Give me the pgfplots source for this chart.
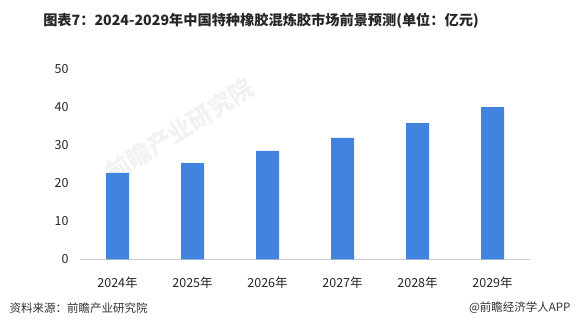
\documentclass[border=0pt]{standalone}
\usepackage{pgfplots}
\pgfplotsset{compat=1.18}
\usepackage{fontspec}
\setmainfont{Noto Sans CJK SC}
\definecolor{barblue}{RGB}{65,131,223}
\begin{document}
\begin{tikzpicture}[x=1pt,y=1pt]
\path[use as bounding box, fill=white] (0pt,0pt) rectangle (576pt,330pt);
\node[rotate=32, text=gray!10, font=\fontsize{24}{26}\selectfont\bfseries] at (180pt,200pt) {前瞻产业研究院};
\node[font=\fontsize{14.2}{16}\selectfont\bfseries, text=black!85] at (261pt,309pt) {图表7：2024-2029年中国特种橡胶混炼胶市场前景预测(单位：亿元)};
\begin{axis}[
  at={(80pt,70.7pt)}, anchor=south west,
  scale only axis, width=450pt, height=190.3pt,
  ybar, bar width=23pt,
  xmin=-0.5, xmax=5.5, ymin=0, ymax=50,
  xtick=data,
  xticklabels={2024年,2025年,2026年,2027年,2028年,2029年},
  ytick={0,10,20,30,40,50},
  axis x line=bottom, axis y line=left,
  x axis line style={draw=gray!40, -},
  y axis line style={draw=none},
  major tick length=0pt,
  tick label style={font=\fontsize{12.5}{14}\selectfont, text=black!85},
  /pgf/number format/assume math mode=true,
  yticklabel style={xshift=-8pt},
  xticklabel style={yshift=-14pt},
  clip=false,
]
\addplot[fill=barblue, draw=none] coordinates {(0,22.7) (1,25.3) (2,28.5) (3,31.9) (4,35.8) (5,40.0)};
\end{axis}
\node[anchor=west, font=\fontsize{11.5}{13}\selectfont, text=black!80] at (6pt,22pt) {资料来源：前瞻产业研究院};
\node[anchor=east, font=\fontsize{11.5}{13}\selectfont, text=black!80] at (574pt,22pt) {@前瞻经济学人APP};
\end{tikzpicture}
\end{document}
